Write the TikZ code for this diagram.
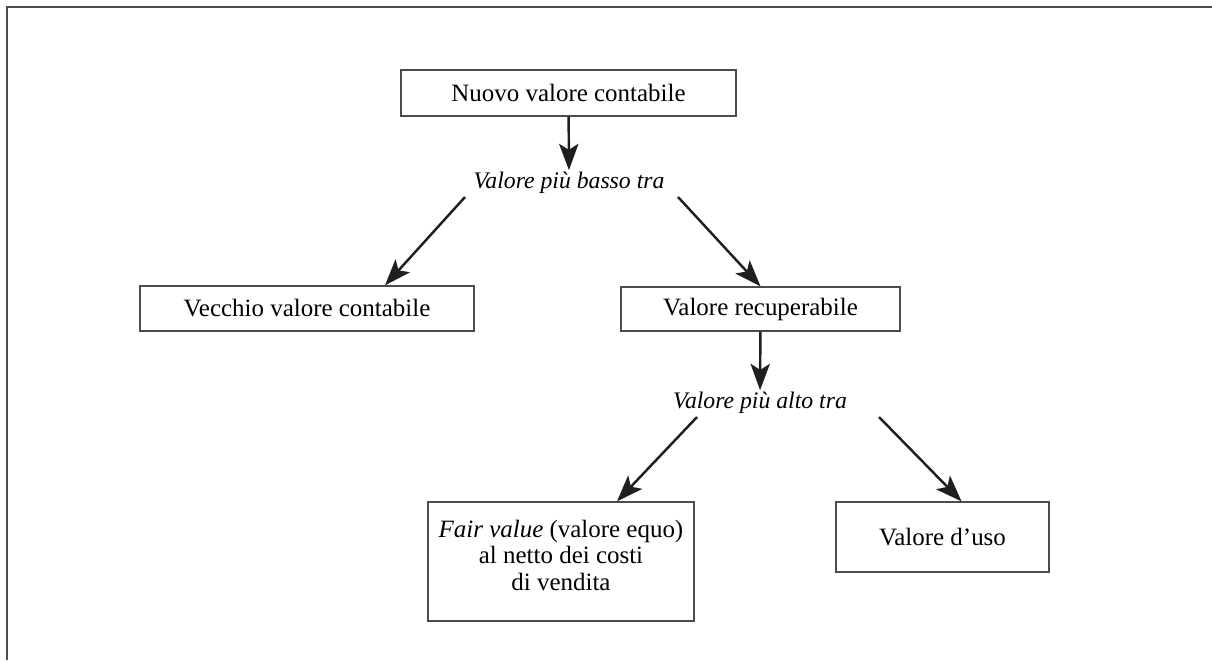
\documentclass[tikz,border=0pt]{standalone}
\usepackage{fontspec}
\setmainfont{Liberation Serif}
\usetikzlibrary{arrows.meta,calc}
\definecolor{boxgray}{rgb}{0.3, 0.3, 0.3}
\definecolor{framegray}{rgb}{0.3, 0.3, 0.3}
\tikzset{
  valbox/.style={draw=boxgray,line width=.75pt,align=center,inner sep=0pt,
    font=\fontsize{14.2}{15.2}\selectfont},
  tralabel/.style={inner sep=1pt,font=\fontsize{13.5}{14.5}\selectfont\itshape},
  valarrow/.style={-{Stealth[length=15pt,width=11pt,inset=3.5pt]},line width=1.4pt,color=black!88},
}

\begin{document}
\begin{tikzpicture}[x=0.02cm,y=-0.02cm]
\useasboundingbox (0,0) rectangle (1212,660);

% Frame
\draw[line width=1.3pt, color=framegray] (1212,7) -- (7,7) -- (7,660);

%%%%%%%%%%%%%%
% Top level
%%%%%%%%%%%%%%
  \node[valbox, minimum width=6.7cm, minimum height=.92cm] (nuovo) at (568.5, 93)
        {Nuovo valore contabile};
  \node[tralabel] (basso) at (569, 183) {Valore più basso tra};

  \node[valbox, minimum width=6.68cm, minimum height=.9cm] (vecchio) at (307, 308.5)
        {Vecchio valore contabile};
  \node[valbox, minimum width=5.58cm, minimum height=.88cm] (recup) at (760.5, 309)
        {Valore recuperabile};

  % legs
  \draw[valarrow] (nuovo) -- (basso);
  \draw[valarrow] ($(basso)+(-104,14)$) -- ($(vecchio.north)+(78,0)$);
  \draw[valarrow] ($(basso)+(109,14)$) -- (recup.north);

%%%%%%%%%%%%%%
% Recoverable value
%%%%%%%%%%%%%%
  \node[tralabel] (alto) at (760, 403) {Valore più alto tra};

  \node[valbox, minimum width=5.32cm, minimum height=2.38cm] (fair) at (561, 561.5)
        {\textit{Fair value} (valore equo)\\al netto dei costi\\di vendita\\[-8pt]\mbox{}};
  \node[valbox, minimum width=4.26cm, minimum height=1.4cm] (uso) at (942.5, 537)
        {Valore d’uso};

  % legs
  \draw[valarrow] (recup) -- (alto);
  \draw[valarrow] ($(alto)+(-63,14)$) -- ($(fair.north)+(56,0)$);
  \draw[valarrow] ($(alto)+(119,14)$) -- ($(uso.north)+(19,0)$);

\end{tikzpicture}
\end{document}
